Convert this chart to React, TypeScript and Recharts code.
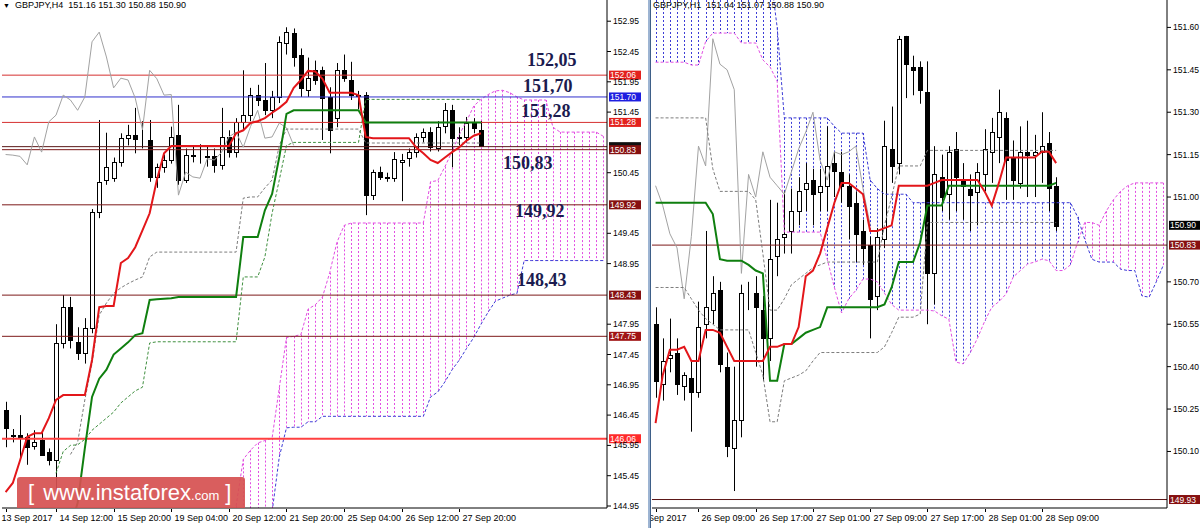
import React from "react";
import { ComposedChart, Bar, Line, XAxis, YAxis, ReferenceLine } from "recharts";

const FONT = "'Liberation Sans', Arial, sans-serif";
const SERIF = "'Liberation Serif', 'Times New Roman', serif";

// ---------- GBPJPY H4 (left) ----------
// bar 0 = 13 Sep 2017 late, bar 7 = 14 Sep 12:00 ... bar 66 = 28 Sep 08:00
const h4Open = [
  146.53, 146.12, 146.12, 146.09, 145.94, 146.04, 145.84, 145.71, 147.64, 148.23,
  147.66, 147.48, 147.89, 149.8, 150.33, 150.36, 150.63, 151.02, 151.07, 150.99,
  150.99, 150.38, 150.54, 150.66, 151.07, 150.33, 150.74, 150.74, 150.73, 150.73,
  150.58, 151.04, 150.79, 151.29, 151.4, 151.73, 151.65, 151.48, 151.7, 152.59,
  152.76, 152.39, 151.81, 152.14, 152.14, 151.7, 151.35, 152.14, 151.98, 151.73,
  151.73, 150.08, 150.46, 150.38, 150.36, 150.62, 150.69, 150.79, 151.04, 151.12,
  150.87, 151.21, 151.48, 151.02, 151.04, 151.29, 151.16,
];
const h4High = [
  146.67, 146.22, 146.45, 146.15, 146.2, 146.2, 145.9, 147.95, 148.43, 148.4,
  147.9, 148.05, 149.85, 151.32, 151.11, 150.7, 151.1, 151.24, 151.52, 151.3,
  151.32, 150.6, 150.75, 151.21, 151.57, 150.85, 150.9, 150.92, 150.9, 150.85,
  151.52, 151.15, 151.35, 152.14, 151.85, 151.9, 152.26, 151.8, 152.7, 152.85,
  152.83, 152.5, 152.35, 152.3, 152.2, 151.86, 152.26, 152.4, 152.28, 151.8,
  151.78, 150.5, 150.55, 150.45, 150.79, 150.76, 150.85, 151.1, 151.18, 151.2,
  151.3, 151.6, 151.57, 151.2, 151.37, 151.35, 151.3,
];
const h4Low = [
  145.92, 146.0, 145.71, 145.63, 145.88, 145.78, 145.62, 145.1, 147.55, 147.55,
  147.36, 147.3, 147.8, 149.7, 150.25, 150.3, 150.55, 150.9, 150.77, 150.85,
  150.3, 150.2, 150.45, 150.6, 150.25, 150.28, 150.62, 150.6, 150.55, 150.45,
  150.5, 150.7, 150.7, 151.15, 151.3, 151.55, 151.4, 151.35, 151.6, 152.4,
  152.2, 151.7, 151.7, 151.9, 150.99, 150.77, 151.2, 151.95, 151.65, 151.5,
  149.75, 150.0, 150.33, 150.3, 150.3, 149.98, 150.55, 150.7, 150.95, 150.8,
  150.8, 151.1, 150.54, 150.9, 150.95, 151.1, 150.88,
];
const h4Close = [
  146.24, 146.1, 146.07, 145.92, 146.01, 145.79, 145.71, 147.64, 148.23, 147.69,
  147.48, 147.89, 149.8, 150.3, 150.54, 150.63, 151.02, 151.07, 151.01, 150.99,
  150.38, 150.54, 150.66, 151.04, 150.33, 150.74, 150.75, 150.74, 150.72, 150.58,
  151.04, 150.79, 151.29, 151.4, 151.73, 151.65, 151.48, 151.7, 152.61, 152.77,
  152.36, 151.85, 152.01, 151.98, 151.68, 151.16, 152.14, 152.0, 151.73, 151.74,
  150.08, 150.46, 150.38, 150.36, 150.68, 150.66, 150.79, 151.04, 151.12, 150.87,
  151.21, 151.48, 151.02, 151.04, 151.27, 151.19, 150.9,
];
const h4Tenkan = [
  145.18, 145.33, 145.7, 146.09, 146.15, 146.15, 146.4, 146.7, 146.78, 146.78,
  146.78, 146.78, 147.36, 148.23, 148.25, 148.25, 148.96, 149.04, 149.22, 149.5,
  149.78, 150.33, 150.77, 150.89, 150.89, 150.89, 150.89, 150.89, 150.89, 150.89,
  150.89, 150.89, 151.1, 151.15, 151.27, 151.3, 151.35, 151.44, 151.52, 151.62,
  151.85, 151.98, 152.13, 152.12, 152.0, 151.77, 151.77, 151.77, 151.77, 151.73,
  151.04, 151.02, 151.02, 151.02, 151.02, 151.02, 151.02, 150.87, 150.77, 150.66,
  150.61, 150.7, 150.79, 150.87, 150.98, 151.06, 151.1,
];
const h4Kijun = [
  144.6, 144.6, 144.6, 144.6, 144.6, 144.6, 144.6, 144.6, 144.6, 144.6,
  145.0, 145.9, 146.75, 147.05, 147.2, 147.45, 147.55, 147.65, 147.77, 147.8,
  148.35, 148.36, 148.37, 148.38, 148.4, 148.4, 148.4, 148.4, 148.4, 148.4,
  148.4, 148.4, 148.4, 149.39, 149.39, 149.39, 149.83, 150.1, 150.71, 151.42,
  151.48, 151.48, 151.48, 151.48, 151.48, 151.48, 151.48, 151.48, 151.48, 151.48,
  151.28, 151.28, 151.28, 151.28, 151.28, 151.28, 151.28, 151.28, 151.28, 151.28,
  151.28, 151.28, 151.28, 151.28, 151.28, 151.28, 151.28,
];
const h4CloudStart = 32;
const h4SpanA = [
  144.95, 145.72, 145.87, 145.99, 146.03, 146.07, 146.9, 147.73, 147.75, 147.78,
  148.2, 148.27, 148.4, 148.8, 149.3, 149.58, 149.62, 149.62, 149.62, 149.62,
  149.62, 149.62, 149.62, 149.62, 149.62, 149.62, 149.62, 150.3, 150.32, 150.55,
  150.8, 151.08, 151.3, 151.55, 151.66, 151.74, 151.8, 151.81, 151.77, 151.7,
  151.65, 151.65, 151.65, 151.65, 151.2, 151.12, 151.12, 151.12, 151.12, 151.12,
  151.12, 151.05,
];
const h4SpanB = [
  143.6, 143.8, 144.0, 144.2, 144.5, 144.85, 145.76, 146.24, 146.25, 146.25,
  146.34, 146.34, 146.43, 146.43, 146.43, 146.43, 146.43, 146.43, 146.43, 146.43,
  146.43, 146.43, 146.43, 146.43, 146.43, 146.43, 146.43, 146.75, 146.83, 147.0,
  147.2, 147.36, 147.55, 147.73, 147.95, 148.15, 148.33, 148.38, 148.43, 148.46,
  149.0, 149.0, 149.0, 149.0, 149.0, 149.0, 149.0, 149.0, 149.0, 149.0,
  149.0, 149.0,
];
const h4GrayStart = 9;
const h4DashGray = [
  145.8, 146.0, 146.7, 147.3, 148.1, 148.3, 148.46, 148.55, 148.62, 148.68,
  148.73, 149.06, 149.14, 149.14, 149.14, 149.14, 149.14, 149.14, 149.14, 149.14,
  149.14, 149.14, 149.14, 149.14, 150.03, 150.05, 150.05, 150.2, 150.33, 150.9,
  151.17, 151.17, 151.17, 151.17, 151.17, 151.17, 151.17, 151.17, 151.17, 151.17,
  151.17, 150.94, 150.94, 150.94, 150.94, 150.94, 150.94, 150.94, 150.94, 150.94,
  150.94, 150.94, 150.94, 150.94, 150.94, 150.94, 150.94, 150.94,
];
const h4GreenStart = 7;
const h4DashGreen = [
  145.49, 145.85, 145.95, 145.96, 146.05, 146.2, 146.3, 146.4, 146.5, 146.65,
  146.75, 146.85, 146.91, 147.64, 147.66, 147.66, 147.66, 147.66, 147.66, 147.66,
  147.66, 147.66, 147.66, 147.66, 147.66, 147.66, 148.73, 148.73, 148.73, 149.06,
  149.78, 150.33, 150.9, 150.95, 150.95, 150.95, 150.95, 150.95, 150.95, 150.95,
  150.95, 150.95, 150.95, 151.66, 151.66, 151.66, 151.66, 151.66, 151.66, 151.66,
  151.66, 151.66, 151.66, 151.66, 151.66, 151.66, 151.66, 151.66, 151.66, 151.66,
];
// price scale labels that are not hidden under the level tags
const h4Ticks = [
  144.95, 145.45, 145.95, 146.45, 146.95, 147.45, 147.95, 148.95,
  149.45, 150.45, 151.45, 151.95, 152.45, 152.95,
];
const h4TimeIdx = [0, 7, 15, 23, 31, 39, 47, 55, 63];
const h4TimeText = [
  "13 Sep 2017", "14 Sep 12:00", "15 Sep 20:00", "19 Sep 04:00", "20 Sep 12:00",
  "21 Sep 20:00", "25 Sep 04:00", "26 Sep 12:00", "27 Sep 20:00",
];
const h4Levels = [152.06, 151.7, 151.28, 150.88, 150.83, 149.92, 148.43, 147.75, 146.06];
const h4LevelTags = ["152.06", "151.70", "151.28", "", "150.83", "149.92", "148.43", "147.75", "146.06"];
const h4LevelNotes = ["152,05", "151,70", "151,28", null, "150,83", "149,92", "148,43", null, null];

// ---------- GBPJPY H1 (right) ----------
// bar 0 = 26 Sep 03:00 ... bar 56 = 28 Sep 11:00
const h1Open = [
  150.55, 150.34, 150.43, 150.45, 150.33, 150.36, 150.31, 150.55, 150.6, 150.67,
  150.4, 150.11, 150.21, 150.67, 150.66, 150.6, 150.5, 150.79, 150.86, 150.88,
  150.95, 151.03, 151.06, 151.02, 151.04, 151.12, 151.09, 151.04, 150.98, 150.88,
  150.83, 150.65, 150.85, 151.17, 151.12, 151.57, 151.46, 151.46, 151.37, 150.73,
  151.07, 151.01, 151.17, 151.06, 151.03, 151.02, 151.08, 151.16, 151.21, 151.28,
  151.14, 151.05, 151.16, 151.15, 151.16, 151.19, 151.04,
];
const h1High = [
  150.61, 150.5, 150.57, 150.5, 150.38, 150.42, 150.63, 150.88, 150.72, 150.7,
  150.45, 150.4, 150.69, 150.7, 150.72, 150.65, 150.99, 150.98, 151.02, 151.03,
  151.07, 151.12, 151.1, 151.1, 151.25, 151.16, 151.16, 151.08, 151.02, 150.92,
  150.86, 150.89, 151.27, 151.32, 151.57, 151.57, 151.5, 151.48, 151.48, 151.18,
  151.15, 151.18, 151.23, 151.12, 151.08, 151.12, 151.24, 151.28, 151.38, 151.3,
  151.2, 151.25, 151.27, 151.22, 151.3, 151.23, 151.07,
];
const h1Low = [
  150.29, 150.28, 150.38, 150.3, 150.28, 150.17, 150.29, 150.5, 150.55, 150.38,
  150.08, 149.96, 150.15, 150.6, 150.4, 150.35, 150.42, 150.72, 150.8, 150.8,
  150.9, 150.95, 150.9, 150.95, 150.95, 151.0, 150.98, 150.85, 150.77, 150.76,
  150.5, 150.6, 150.82, 151.05, 151.08, 151.35, 151.36, 151.33, 150.55, 150.62,
  150.95, 150.92, 150.95, 150.92, 150.88, 150.9, 151.02, 151.05, 151.12, 150.99,
  150.99, 151.03, 151.0, 151.0, 151.05, 150.95, 150.88,
];
const h1Close = [
  150.35, 150.42, 150.44, 150.34, 150.37, 150.31, 150.54, 150.61, 150.66, 150.41,
  150.12, 150.21, 150.66, 150.67, 150.61, 150.5, 150.78, 150.85, 150.87, 150.95,
  151.02, 151.05, 151.01, 151.04, 151.11, 151.09, 151.04, 150.97, 150.87, 150.82,
  150.64, 150.86, 151.18, 151.11, 151.56, 151.47, 151.45, 151.38, 150.73, 151.08,
  151.0, 151.16, 151.07, 151.04, 151.01, 151.09, 151.17, 151.23, 151.3, 151.13,
  151.06, 151.16, 151.15, 151.16, 151.18, 151.03, 150.9,
];
const h1Tenkan = [
  150.2, 150.37, 150.46, 150.46, 150.47, 150.42, 150.42, 150.53, 150.53, 150.52,
  150.47, 150.42, 150.42, 150.42, 150.42, 150.42, 150.47, 150.47, 150.48, 150.48,
  150.54, 150.72, 150.74, 150.8, 150.89, 150.98, 151.05, 151.05, 151.03, 151.01,
  150.88, 150.88, 150.89, 150.9, 151.04, 151.04, 151.04, 151.04, 151.04, 151.05,
  151.06, 151.06, 151.06, 151.06, 151.06, 151.06, 151.02, 150.97, 151.05, 151.14,
  151.14, 151.14, 151.14, 151.14, 151.16, 151.16, 151.12,
];
const h1Kijun = [
  150.98, 150.98, 150.98, 150.98, 150.98, 150.98, 150.98, 150.98, 150.94, 150.78,
  150.775, 150.775, 150.775, 150.76, 150.74, 150.73, 150.35, 150.35, 150.48, 150.48,
  150.5, 150.52, 150.53, 150.54, 150.61, 150.61, 150.61, 150.61, 150.61, 150.61,
  150.61, 150.61, 150.62, 150.68, 150.77, 150.77, 150.77, 150.84, 150.97, 150.97,
  150.97, 151.04, 151.04, 151.04, 151.04, 151.04, 151.04, 151.04, 151.04, 151.04,
  151.04, 151.04, 151.04, 151.04, 151.04, 151.04, 151.05,
];
const h1SpanA = [
  151.477, 151.477, 151.477, 151.477, 151.477, 151.467, 151.467, 151.55, 151.58, 151.58,
  151.58, 151.58, 151.545, 151.545, 151.545, 151.485, 151.46, 151.41, 150.876, 150.876,
  150.876, 150.876, 150.876, 150.876, 150.78, 150.68, 150.59, 150.64, 150.67, 150.71,
  150.71, 150.7, 150.66, 150.62, 150.6, 150.6, 150.6, 150.6, 150.6, 150.597,
  150.58, 150.568, 150.416, 150.41, 150.45, 150.5, 150.56, 150.61, 150.63, 150.657,
  150.717, 150.74, 150.763, 150.77, 150.78, 150.775, 150.74, 150.74, 150.76, 150.84,
  150.91, 150.91, 150.9, 150.95, 150.99, 151.02, 151.04, 151.05, 151.05, 151.05,
  151.05, 151.05,
];
const h1SpanB = [
  151.85, 151.85, 151.85, 151.85, 151.85, 151.85, 151.85, 151.85, 151.85, 151.85,
  151.85, 151.85, 151.85, 151.85, 151.85, 151.85, 151.8, 151.6, 151.28, 151.28,
  151.28, 151.28, 151.28, 151.28, 151.28, 151.25, 151.226, 151.226, 151.226, 151.226,
  151.06, 151.03, 151.01, 151.01, 151.01, 151.01, 150.98, 150.98, 150.98, 150.98,
  150.98, 150.98, 150.98, 150.98, 150.98, 150.98, 150.98, 150.98, 150.98, 150.98,
  150.98, 150.98, 150.98, 150.98, 150.98, 150.98, 150.98, 150.98, 150.98, 150.93,
  150.85, 150.78, 150.77, 150.77, 150.77, 150.745, 150.74, 150.74, 150.65, 150.646,
  150.7, 150.76,
];
const h1DashUpper = [
  151.28, 151.28, 151.28, 151.28, 151.28, 151.28, 151.28, 151.28, 151.1, 151.02,
  151.02, 151.02, 151.02, 151.02, 150.99, 150.8, 150.6, 150.6, 150.64, 150.69,
  150.71, 150.73, 150.75, 150.76, 150.77, 150.77, 150.77, 150.77, 150.77, 150.77,
  150.77, 150.77, 150.9, 151.0, 151.11, 151.11, 151.11, 151.11, 151.165, 151.165,
  151.165, 151.165, 151.165, 151.165, 151.165, 151.165, 151.165, 151.165, 151.165, 151.165,
  151.165, 151.165, 151.165, 151.165, 151.165, 151.165, 151.165,
];
const h1DashLower = [
  150.68, 150.68, 150.68, 150.68, 150.68, 150.64, 150.6, 150.57, 150.55, 150.53,
  150.53, 150.53, 150.53, 150.53, 150.45, 150.37, 150.205, 150.205, 150.35, 150.36,
  150.37, 150.385, 150.42, 150.45, 150.45, 150.45, 150.45, 150.45, 150.45, 150.45,
  150.45, 150.45, 150.47, 150.52, 150.575, 150.575, 150.575, 150.586, 150.91, 150.91,
  150.91, 150.91, 150.91, 150.91, 150.91, 150.91, 150.91, 150.91, 150.91, 150.91,
  150.91, 150.91, 150.91, 150.91, 150.91, 150.91, 150.91,
];
const h1Ticks = [150.1, 150.25, 150.4, 150.55, 150.7, 151.0, 151.15, 151.3, 151.45, 151.6];
const h1TimeIdx = [0, 6, 14, 22, 30, 38, 46, 54];
const h1TimeText = [
  "26 Sep 2017", "26 Sep 09:00", "26 Sep 17:00", "27 Sep 01:00",
  "27 Sep 09:00", "27 Sep 17:00", "28 Sep 01:00", "28 Sep 09:00",
];
const h1Levels = [150.9, 150.83, 149.93];
const h1LevelTags = ["150.90", "150.83", "149.93"];

// ---------- styles ----------
const PLOT_BOTTOM = 508;
const PINK = "#e24ee2";
const BLUE = "#3c3cd6";
const h4LevelStyle = [
  { stroke: "#d63030", w: 1, bg: "#e3211d", nx: 527, dy: -9 },
  { stroke: "#3030cc", w: 1, bg: "#1e1ee0", nx: 523, dy: -5 },
  { stroke: "#d63030", w: 1, bg: "#e3211d", nx: 521, dy: -5 },
  { stroke: "#5a1818", w: 1, bg: "#111111", nx: 0, dy: 0 },
  { stroke: "#7d1a1a", w: 1, bg: "#861010", nx: 503, dy: 19 },
  { stroke: "#7d1a1a", w: 1, bg: "#861010", nx: 515, dy: 12 },
  { stroke: "#7d1a1a", w: 1, bg: "#861010", nx: 517, dy: -9 },
  { stroke: "#7d1a1a", w: 1, bg: "#a01414", nx: 0, dy: 0 },
  { stroke: "#ff4040", w: 2, bg: "#ff2a2a", nx: 0, dy: 0 },
];
const h1LevelStyle = [
  { stroke: "none", w: 0, bg: "#000000" },
  { stroke: "#7d1a1a", w: 1, bg: "#861010" },
  { stroke: "#5a1414", w: 1, bg: "#861010" },
];

function CandleShape(props: any) {
  const { x, y, width, height, payload } = props;
  if (!payload || payload.h == null) return <g />;
  const top = Math.min(y, y + height);
  const bot = Math.max(y, y + height);
  const span = payload.h - payload.l;
  const k = span > 0 ? (bot - top) / span : 0;
  const cx = Math.round(x + width / 2);
  const yo = top + (payload.h - payload.o) * k;
  const yc = top + (payload.h - payload.c) * k;
  const up = payload.c >= payload.o;
  const bt = Math.round(Math.min(yo, yc)) + 0.5;
  const bh = Math.max(0, Math.round(Math.abs(yc - yo)));
  return (
    <g>
      <line x1={cx + 0.5} x2={cx + 0.5} y1={top} y2={bot} stroke="#000" strokeWidth={1} />
      <rect x={cx - 1.5} y={bt} width={4} height={bh} fill={up ? "#fff" : "#000"} stroke="#000" strokeWidth={1} />
    </g>
  );
}

function HatchShape(props: any) {
  const { x, width, y, height, payload } = props;
  if (!payload || payload.a == null || payload.b == null) return <g />;
  const top = Math.max(0, Math.min(y, y + height));
  const bot = Math.min(PLOT_BOTTOM, Math.max(y, y + height));
  if (bot <= top) return <g />;
  const cx = Math.round(x + width / 2) + 0.5;
  return (
    <line x1={cx} x2={cx} y1={top} y2={bot} stroke={payload.a >= payload.b ? PINK : BLUE}
      strokeWidth={1} strokeDasharray="2 2" />
  );
}

function makeXTick(idx: number[], text: string[], firstShift: number) {
  return (p: any) => {
    const v = Number(p.payload?.value);
    const k = idx.indexOf(v);
    if (k < 0) return <g />;
    const x = Math.round(p.x) + 0.5;
    return (
      <g>
        <line x1={x} x2={x} y1={PLOT_BOTTOM + 1} y2={PLOT_BOTTOM + 4} stroke="#000" />
        <text x={v === 0 ? x + firstShift : x + 3} y={PLOT_BOTTOM + 13} fontSize={9} fontFamily={FONT} fill="#000">
          {text[k]}
        </text>
      </g>
    );
  };
}

function makeTag(tag: string, bg: string, tagW: number, note?: string | null, nx?: number, dy?: number) {
  return (p: any) => {
    const vb = p.viewBox || {};
    const right = (vb.x ?? 0) + (vb.width ?? 0);
    const y = vb.y ?? 0;
    return (
      <g>
        <rect x={right + 2} y={y - 4.5} width={tagW} height={9} fill={bg} />
        {tag ? (
          <text x={right + 3} y={y + 3} fontSize={8.5} fontFamily={FONT} fill="#fff">{tag}</text>
        ) : null}
        {note ? (
          <text x={nx} y={y + (dy ?? 0)} fontSize={18} fontWeight="bold" fontFamily={SERIF} fill="#1b1b4f">
            {note}
          </text>
        ) : null}
      </g>
    );
  };
}

const h4Rows = Array.from({ length: 84 }, (_, i) => ({
  i,
  o: h4Open[i], h: h4High[i], l: h4Low[i], c: h4Close[i],
  tenkan: h4Tenkan[i], kijun: h4Kijun[i],
  a: h4SpanA[i - h4CloudStart], b: h4SpanB[i - h4CloudStart],
  g1: h4DashGray[i - h4GrayStart], g2: h4DashGreen[i - h4GreenStart],
  chikou: h4Close[i + 26],
}));

const h1Rows = Array.from({ length: 72 }, (_, i) => ({
  i,
  o: h1Open[i], h: h1High[i], l: h1Low[i], c: h1Close[i],
  tenkan: h1Tenkan[i], kijun: h1Kijun[i],
  a: h1SpanA[i], b: h1SpanB[i],
  g1: h1DashUpper[i], g2: h1DashLower[i],
  chikou: h1Close[i + 26],
}));

const hatchKey = (d: any) => (d.a != null && d.b != null ? [Math.min(d.a, d.b), Math.max(d.a, d.b)] : null);
const candleKey = (d: any) => (d.h != null ? [d.l, d.h] : null);

function IchimokuPanel(props: {
  rows: any[]; width: number; axisW: number; domain: [number, number]; ticks: number[];
  timeIdx: number[]; timeText: string[]; firstShift: number; levels: React.ReactNode;
  g2Color: string;
}) {
  const { rows, width, axisW, domain, ticks, timeIdx, timeText, firstShift, levels, g2Color } = props;
  return (
    <ComposedChart width={width} height={528} data={rows} margin={{ top: 0, right: 0, left: 2, bottom: 0 }}
      barGap={-5} barCategoryGap={0}>
      <XAxis dataKey="i" type="category" interval={0} height={20} tickLine={false}
        axisLine={{ stroke: "#000" }} tick={makeXTick(timeIdx, timeText, firstShift)} />
      <YAxis orientation="right" type="number" domain={domain} allowDataOverflow ticks={ticks} interval={0}
        width={axisW} tickFormatter={(v: number) => v.toFixed(2)} tickSize={4} tickMargin={2}
        tick={{ fontSize: 8.5, fill: "#000", fontFamily: FONT }} tickLine={{ stroke: "#000" }}
        axisLine={{ stroke: "#000" }} />
      <Bar dataKey={hatchKey} barSize={5} shape={HatchShape} isAnimationActive={false} />
      <Line dataKey="a" type="linear" stroke={PINK} strokeWidth={1} strokeDasharray="3 2" dot={false} activeDot={false} isAnimationActive={false} />
      <Line dataKey="b" type="linear" stroke={BLUE} strokeWidth={1} strokeDasharray="3 2" dot={false} activeDot={false} isAnimationActive={false} />
      {levels}
      <Bar dataKey={candleKey} barSize={5} shape={CandleShape} isAnimationActive={false} />
      <Line dataKey="chikou" type="linear" stroke="#a2a2a2" strokeWidth={1} dot={false} activeDot={false} isAnimationActive={false} />
      <Line dataKey="g1" type="linear" stroke="#7c7c7c" strokeWidth={1} strokeDasharray="3 2" dot={false} activeDot={false} isAnimationActive={false} />
      <Line dataKey="g2" type="linear" stroke={g2Color} strokeWidth={1} strokeDasharray="3 2" dot={false} activeDot={false} isAnimationActive={false} />
      <Line dataKey="kijun" type="linear" stroke="#0f7f0f" strokeWidth={2} dot={false} activeDot={false} isAnimationActive={false} />
      <Line dataKey="tenkan" type="linear" stroke="#e3161a" strokeWidth={2} dot={false} activeDot={false} isAnimationActive={false} />
    </ComposedChart>
  );
}

export default function App() {
  const h4LevelNodes = h4Levels.map((v, k) => {
    const s = h4LevelStyle[k];
    return (
      <ReferenceLine key={"h4" + k} y={v} stroke={s.stroke} strokeWidth={s.w}
        label={makeTag(h4LevelTags[k], s.bg, 32, h4LevelNotes[k], s.nx, s.dy)} />
    );
  });
  const h1LevelNodes = h1Levels.map((v, k) => {
    const s = h1LevelStyle[k];
    return (
      <ReferenceLine key={"h1" + k} y={v} stroke={s.stroke} strokeWidth={s.w}
        label={makeTag(h1LevelTags[k], s.bg, 34)} />
    );
  });

  return (
    <div style={{ position: "relative", width: 1200, height: 528, background: "#fff", overflow: "hidden" }}>
      <style>{"body{margin:0}"}</style>
      <div style={{ position: "absolute", left: 0, top: 0 }}>
        <IchimokuPanel rows={h4Rows} width={650} axisW={43} domain={[144.917, 153.3]} ticks={h4Ticks}
          timeIdx={h4TimeIdx} timeText={h4TimeText} firstShift={-5} levels={h4LevelNodes} g2Color="#3f8f3f" />
      </div>
      <div style={{ position: "absolute", left: 650, top: 0 }}>
        <IchimokuPanel rows={h1Rows} width={550} axisW={33} domain={[149.9, 151.697]} ticks={h1Ticks}
          timeIdx={h1TimeIdx} timeText={h1TimeText} firstShift={-21} levels={h1LevelNodes} g2Color="#7c7c7c" />
      </div>
      <div style={{ position: "absolute", left: 648, top: 0, width: 3, height: 528, background: "#9db4d2" }} />
      <div style={{ position: "absolute", left: 650, top: 0, width: 1, height: 528, background: "#3e5f88" }} />
      <div style={{ position: "absolute", left: 3, top: 0, fontFamily: FONT, fontSize: 9, lineHeight: "11px", color: "#000", whiteSpace: "pre" }}>
        <span style={{ fontSize: 7 }}>▼</span>{"  GBPJPY,H4  151.16 151.30 150.88 150.90"}
      </div>
      <div style={{ position: "absolute", left: 653, top: 0, fontFamily: FONT, fontSize: 9, lineHeight: "11px", color: "#000", whiteSpace: "pre" }}>
        {"GBPJPY,H1  151.04 151.07 150.88 150.90"}
      </div>
      <div style={{
        position: "absolute", left: 17, top: 477, width: 228, height: 31, background: "rgba(214,80,80,0.92)",
        borderRadius: "3px 3px 0 0", color: "#fff", fontFamily: FONT, display: "flex", alignItems: "center", whiteSpace: "pre",
      }}>
        <span style={{ fontSize: 22, marginLeft: 11 }}>[</span>
        <span style={{ fontSize: 22, marginLeft: 9 }}>www.instaforex</span>
        <span style={{ fontSize: 13, marginTop: 6 }}>.com</span>
        <span style={{ fontSize: 22, marginLeft: 6 }}>]</span>
      </div>
    </div>
  );
}
